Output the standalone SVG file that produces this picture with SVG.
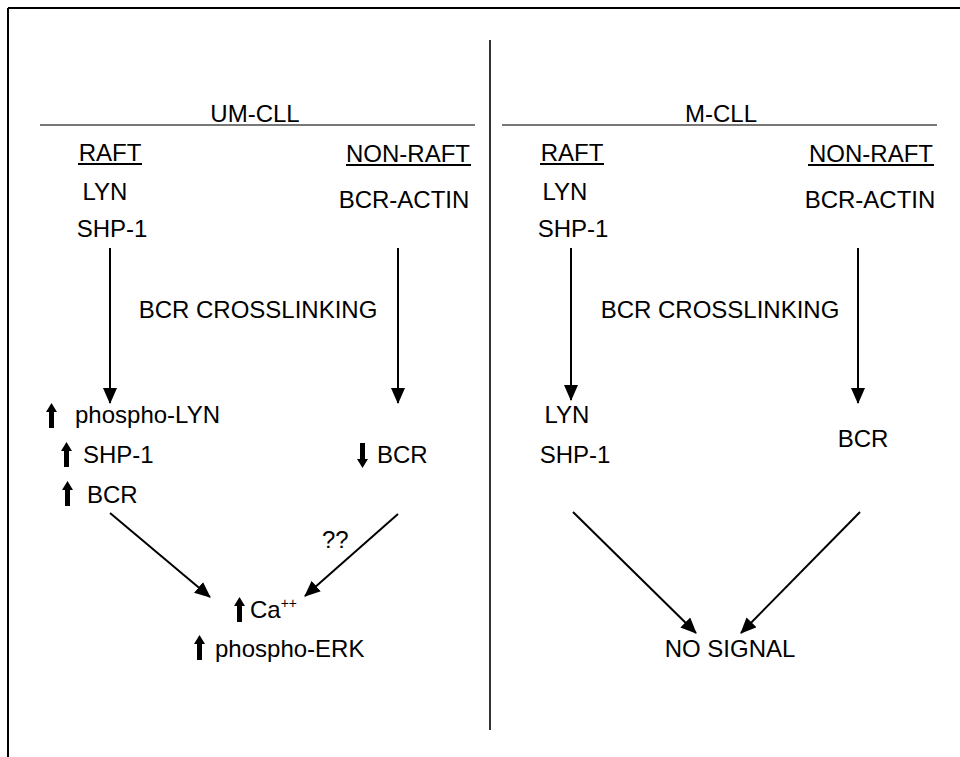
<svg xmlns="http://www.w3.org/2000/svg" width="960" height="757" viewBox="0 0 960 757">
<style>
text{font-family:"Liberation Sans",Arial,sans-serif;font-size:24px;fill:#000}
.m{text-anchor:middle}
.u{stroke:#000;stroke-width:2}
.c{stroke:#000;stroke-width:2;fill:none}
.g{stroke:#777;stroke-width:2}
</style>
<defs>
<marker id="ah" markerUnits="userSpaceOnUse" markerWidth="16" markerHeight="14" refX="15" refY="7" orient="auto" viewBox="0 0 16 14">
<path d="M0,0 L16,7 L0,14 Z" fill="#000"/>
</marker>
<path id="up" d="M5.5,0 L11,9 L8,9 L8,25 L3,25 L3,9 L0,9 Z" fill="#000"/>
</defs>
<rect width="960" height="757" fill="#fff"/>
<g id="frame">
<line x1="8" y1="8" x2="960" y2="8" stroke="#000" stroke-width="2"/>
<line x1="8" y1="8" x2="8" y2="757" stroke="#000" stroke-width="2"/>
<line x1="490" y1="40" x2="490" y2="730" stroke="#333" stroke-width="2"/>
<line class="g" x1="40" y1="125" x2="475" y2="125"/>
<line class="g" x1="502" y1="125" x2="937" y2="125"/>
</g>
<g id="headers">
<text class="m" x="255" y="122">UM-CLL</text>
<text class="m" x="721" y="122">M-CLL</text>
</g>
<g id="um-raft">
<text class="m" x="110" y="161">RAFT</text>
<line class="u" x1="78" y1="164" x2="142" y2="164"/>
<text class="m" x="105" y="200">LYN</text>
<text class="m" x="112" y="237">SHP-1</text>
</g>
<g id="um-nonraft">
<text class="m" x="408" y="162">NON-RAFT</text>
<line class="u" x1="346" y1="165" x2="471" y2="165"/>
<text class="m" x="404" y="208">BCR-ACTIN</text>
</g>
<g id="um-crosslink"><text class="m" x="258" y="318">BCR CROSSLINKING</text></g>
<g id="um-raft-result">
<use href="#up" x="46" y="403"/>
<text x="75" y="423">phospho-LYN</text>
<use href="#up" x="61" y="442"/>
<text x="83" y="463">SHP-1</text>
<use href="#up" x="62" y="481"/>
<text x="87" y="503">BCR</text>
</g>
<g id="um-nonraft-result">
<use href="#up" transform="translate(368,468) rotate(180)"/>
<text x="377" y="463">BCR</text>
</g>
<g id="um-qq"><text x="322" y="548">??</text></g>
<g id="um-output">
<use href="#up" x="234" y="597"/>
<text x="250" y="618">Ca<tspan font-size="14" dy="-10">++</tspan></text>
<use href="#up" x="194" y="635"/>
<text x="215" y="657">phospho-ERK</text>
</g>
<g id="m-raft">
<text class="m" x="572" y="161">RAFT</text>
<line class="u" x1="540" y1="164" x2="604" y2="164"/>
<text class="m" x="565" y="200">LYN</text>
<text class="m" x="573" y="237">SHP-1</text>
</g>
<g id="m-nonraft">
<text class="m" x="871" y="162">NON-RAFT</text>
<line class="u" x1="808" y1="165" x2="934" y2="165"/>
<text class="m" x="870" y="208">BCR-ACTIN</text>
</g>
<g id="m-crosslink"><text class="m" x="720" y="318">BCR CROSSLINKING</text></g>
<g id="m-raft-result">
<text class="m" x="567" y="423">LYN</text>
<text class="m" x="575" y="463">SHP-1</text>
</g>
<g id="m-nonraft-result"><text class="m" x="863" y="447">BCR</text></g>
<g id="m-output"><text class="m" x="730" y="657">NO SIGNAL</text></g>
<g id="connectors">
<line class="c" x1="110" y1="248" x2="110" y2="403" marker-end="url(#ah)"/>
<line class="c" x1="398" y1="248" x2="398" y2="403" marker-end="url(#ah)"/>
<line class="c" x1="110" y1="513" x2="210" y2="597" marker-end="url(#ah)"/>
<line class="c" x1="398" y1="514" x2="305" y2="596" marker-end="url(#ah)"/>
<line class="c" x1="571" y1="248" x2="571" y2="400" marker-end="url(#ah)"/>
<line class="c" x1="858" y1="248" x2="858" y2="403" marker-end="url(#ah)"/>
<line class="c" x1="573" y1="512" x2="696" y2="633" marker-end="url(#ah)"/>
<line class="c" x1="860" y1="512" x2="741" y2="633" marker-end="url(#ah)"/>
</g>
</svg>
